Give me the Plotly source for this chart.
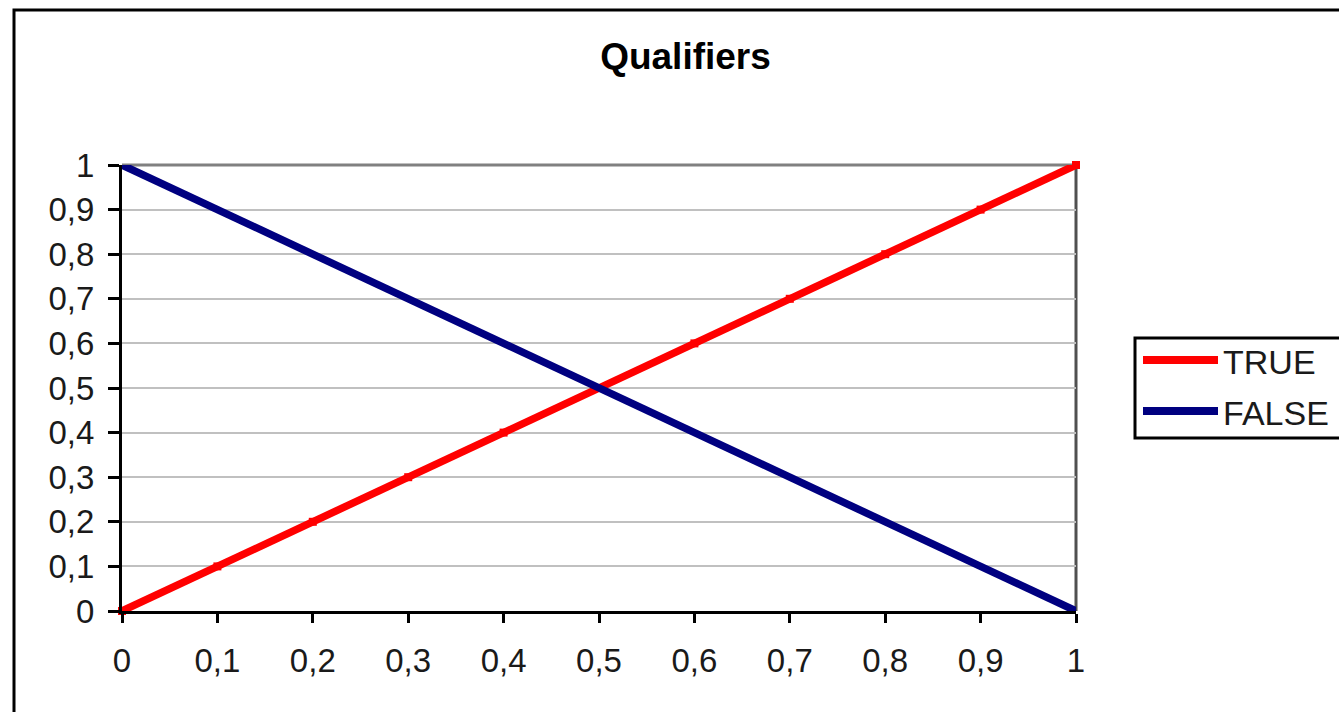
import plotly.graph_objects as go

# Data
x_vals = [0, 0.1, 0.2, 0.3, 0.4, 0.5, 0.6, 0.7, 0.8, 0.9, 1]
true_vals = [0, 0.1, 0.2, 0.3, 0.4, 0.5, 0.6, 0.7, 0.8, 0.9, 1]
false_vals = [1, 0.9, 0.8, 0.7, 0.6, 0.5, 0.4, 0.3, 0.2, 0.1, 0]
tick_vals = [0, 0.1, 0.2, 0.3, 0.4, 0.5, 0.6, 0.7, 0.8, 0.9, 1]
tick_text = ["0", "0,1", "0,2", "0,3", "0,4", "0,5", "0,6", "0,7", "0,8", "0,9", "1"]
series_names = ["TRUE", "FALSE"]
series_colors = ["#ff0000", "#000080"]

W, H = 1339, 712
L, R, T, B = 122, 263, 165, 101
PW, PH = W - L - R, H - T - B


def px(xp):
    return (xp - L) / PW


def py(yp):
    return (H - B - yp) / PH


FONT = "Liberation Sans, Arial, sans-serif"

fig = go.Figure()
fig.add_trace(go.Scatter(
    x=x_vals, y=true_vals, name=series_names[0], mode="lines+markers",
    line=dict(color=series_colors[0], width=7.5),
    marker=dict(symbol="square", size=8, color=series_colors[0]),
    showlegend=False, cliponaxis=False,
))
fig.add_trace(go.Scatter(
    x=x_vals, y=false_vals, name=series_names[1], mode="lines",
    line=dict(color=series_colors[1], width=7.5),
    showlegend=False, cliponaxis=False,
))

shapes = []
# outer chart frame
shapes.append(dict(type="rect", xref="paper", yref="paper",
                   x0=px(14), x1=px(W + 10), y0=py(H + 10), y1=py(10),
                   line=dict(color="black", width=3), fillcolor="rgba(0,0,0,0)",
                   layer="below"))
# plot area top and right borders
shapes.append(dict(type="line", xref="paper", yref="paper",
                   x0=0, x1=1, y0=1, y1=1,
                   line=dict(color="#808080", width=3), layer="below"))
shapes.append(dict(type="line", xref="paper", yref="paper",
                   x0=1, x1=1, y0=0, y1=1,
                   line=dict(color="#505050", width=3), layer="below"))

# legend box
lg_left, lg_top, lg_bottom = 1135, 338, 438
shapes.append(dict(type="rect", xref="paper", yref="paper",
                   x0=px(lg_left), x1=px(W + 10), y0=py(lg_bottom), y1=py(lg_top),
                   line=dict(color="black", width=3), fillcolor="white"))
legend_rows = [360, 411]
annotations = []
for name, color, yrow in zip(series_names, series_colors, legend_rows):
    shapes.append(dict(type="line", xref="paper", yref="paper",
                       x0=px(1143), x1=px(1218), y0=py(yrow), y1=py(yrow),
                       line=dict(color=color, width=8)))
    annotations.append(dict(xref="paper", yref="paper", x=px(1221), y=py(yrow + 2),
                            text=name, showarrow=False, xanchor="left", yanchor="middle",
                            font=dict(family=FONT, size=34, color="#1a1a1a")))

axis_common = dict(
    range=[0, 1], tickmode="array", tickvals=tick_vals, ticktext=tick_text,
    showline=True, linecolor="black", linewidth=3,
    ticks="outside", tickcolor="black", tickwidth=3,
    tickfont=dict(family=FONT, size=33, color="#1a1a1a"),
    zeroline=False, fixedrange=True,
)

fig.update_layout(
    width=W, height=H,
    margin=dict(l=L, r=R, t=T, b=B),
    paper_bgcolor="white", plot_bgcolor="white",
    title=dict(text="<b>Qualifiers</b>", x=685.5 / W, xanchor="center",
               y=1 - 56 / H, yanchor="middle",
               font=dict(family=FONT, size=37, color="black")),
    xaxis=dict(**axis_common, showgrid=False, ticklen=9, ticklabelstandoff=9),
    yaxis=dict(**axis_common, showgrid=True, gridcolor="#c0c0c0", gridwidth=2,
               ticklen=11, ticklabelstandoff=7),
    shapes=shapes,
    annotations=annotations,
    showlegend=False,
)

fig.write_html("out.html")
